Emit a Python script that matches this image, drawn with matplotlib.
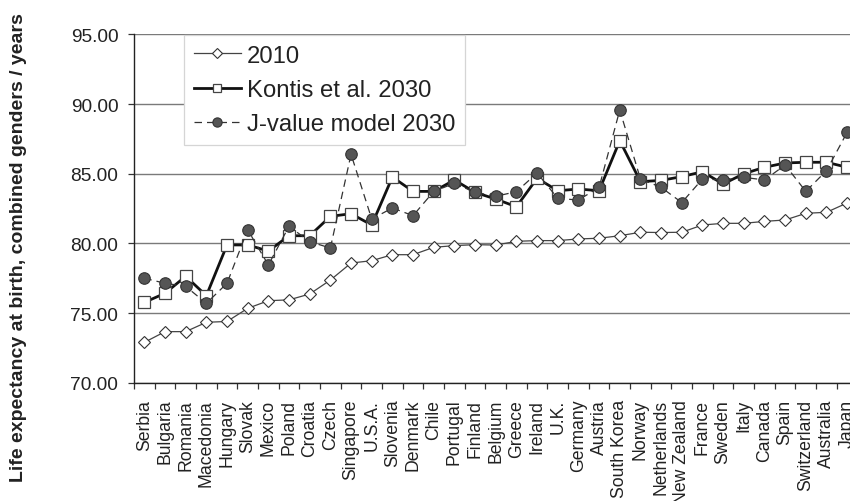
import numpy as np
import matplotlib
matplotlib.use('Agg')
import matplotlib.pyplot as plt

plt.rcParams['font.family'] = ['Liberation Sans', 'DejaVu Sans']

# Data
countries = ['Serbia', 'Bulgaria', 'Romania', 'Macedonia', 'Hungary', 'Slovak', 'Mexico',
             'Poland', 'Croatia', 'Czech', 'Singapore', 'U.S.A.', 'Slovenia', 'Denmark',
             'Chile', 'Portugal', 'Finland', 'Belgium', 'Greece', 'Ireland', 'U.K.',
             'Germany', 'Austria', 'South Korea', 'Norway', 'Netherlands', 'New Zealand',
             'France', 'Sweden', 'Italy', 'Canada', 'Spain', 'Switzerland', 'Australia', 'Japan']

le_2010 = [72.90, 73.67, 73.67, 74.34, 74.40, 75.34, 75.89, 75.95, 76.37, 77.37,
           78.59, 78.76, 79.19, 79.19, 79.72, 79.84, 79.91, 79.88, 80.15, 80.20,
           80.20, 80.32, 80.37, 80.55, 80.80, 80.78, 80.80, 81.32, 81.44, 81.44,
           81.58, 81.68, 82.16, 82.23, 82.90]

kontis_2030 = [75.77, 76.42, 77.64, 76.25, 79.89, 79.89, 79.45, 80.55, 80.55, 81.94,
               82.13, 81.32, 84.76, 83.73, 83.73, 84.55, 83.66, 83.18, 82.63, 84.67,
               83.78, 83.90, 83.78, 87.37, 84.43, 84.52, 84.79, 85.14, 84.26, 85.00,
               85.46, 85.77, 85.82, 85.82, 85.46]

jvalue_2030 = [77.50, 77.14, 76.92, 75.70, 77.14, 80.98, 78.45, 81.23, 80.12, 79.67,
               86.39, 81.75, 82.54, 81.99, 83.73, 84.31, 83.66, 83.38, 83.71, 85.05,
               83.23, 83.11, 84.02, 89.57, 84.62, 84.02, 82.93, 84.62, 84.55, 84.74,
               84.55, 85.62, 83.73, 85.22, 87.97]

y_ticks = [70, 75, 80, 85, 90, 95]

x = np.arange(len(countries))

fig = plt.figure(figsize=(8.5, 5.02), dpi=100)
# plot area runs a little past the right edge, like the cropped original
ax = fig.add_axes([134 / 850, 1 - 383.8 / 502, 723.5 / 850, 348.5 / 502])

ax.grid(axis='y', color='#7a7a7a', linewidth=1.0, zorder=0)
ax.set_axisbelow(True)

ax.plot(x, le_2010, color='#444444', linewidth=0.9, marker='D', markersize=6,
        markerfacecolor='white', markeredgecolor='#333333', markeredgewidth=0.8,
        label='2010', zorder=3)
ax.plot(x, kontis_2030, color='#111111', linewidth=2.0, marker='s', markersize=8,
        markerfacecolor='white', markeredgecolor='#444444', markeredgewidth=0.9,
        label='Kontis et al. 2030', zorder=4)
ax.plot(x, jvalue_2030, color='#333333', linewidth=0.9, linestyle=(0, (6, 4)),
        marker='o', markersize=8.3, markerfacecolor='#555555',
        markeredgecolor='#333333', markeredgewidth=0.8,
        label='J-value model 2030', zorder=5)

ax.set_xlim(-0.5, len(countries) - 0.5)
ax.set_ylim(70, 95)

ax.set_yticks(y_ticks)
ax.set_yticklabels(['%.2f' % v for v in y_ticks])
ax.tick_params(axis='y', direction='out', length=4.3, width=0.9, color='#333333',
               labelsize=13.8, pad=7, labelcolor='#222222')

ax.set_xticks(x)
ax.set_xticklabels(countries, rotation=90)
ax.set_xticks(np.arange(-0.5, len(countries)), minor=True)
ax.tick_params(axis='x', which='major', length=0, labelsize=12.7, pad=11.5,
               labelcolor='#222222')
ax.tick_params(axis='x', which='minor', direction='out', length=4.3, width=0.9,
               color='#333333')

for side in ['top', 'right']:
    ax.spines[side].set_visible(False)
for side in ['left', 'bottom']:
    ax.spines[side].set_color('#222222')
    ax.spines[side].set_linewidth(1.0)

leg = ax.legend(loc='upper left', bbox_to_anchor=(184 / 850, 1 - 35.5 / 502),
                bbox_transform=fig.transFigure, fontsize=17.2, frameon=True,
                fancybox=False, edgecolor='#d5d5d5', framealpha=1,
                handlelength=1.95, handletextpad=0.26, labelspacing=0.52,
                borderpad=0.42, borderaxespad=0, markerscale=0.8)
leg.get_frame().set_linewidth(0.9)
for t in leg.get_texts():
    t.set_color('#222222')

fig.text(19 / 850, 1 - 248 / 502, 'Life expectancy at birth, combined genders / years',
         rotation=90, ha='center', va='center', fontsize=14, fontweight='bold',
         color='#222222')

fig.savefig('out.png', dpi=100)
